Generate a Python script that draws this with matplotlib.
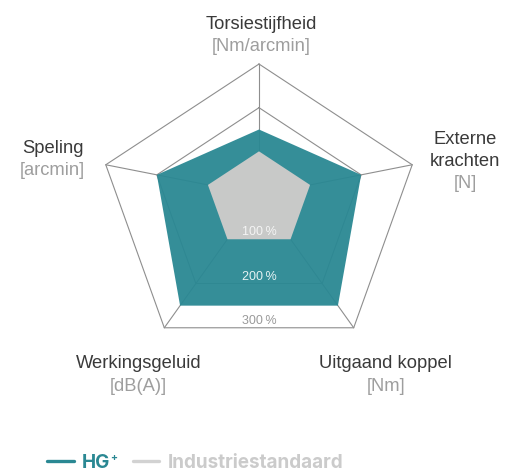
#!/usr/bin/env python3
"""
Radar chart: HG+ vs industry standard on five gearbox properties.
"""

import numpy as np
import matplotlib
matplotlib.use("Agg")
import matplotlib.pyplot as plt
from matplotlib.lines import Line2D
from matplotlib.font_manager import FontProperties

# Data
AXES = ["Torsiestijfheid", "Externe\nkrachten", "Uitgaand koppel", "Werkingsgeluid", "Speling"]
UNITS = ["[Nm/arcmin]", "[N]", "[Nm]", "[dB(A)]", "[arcmin]"]
HG_VALUES = [150, 200, 250, 250, 200]      # percent of industry standard
STD_VALUES = [100, 100, 100, 100, 100]
RINGS = [200, 300]
RING_LABELS = {100: "100\u2009%", 200: "200\u2009%", 300: "300\u2009%"}
SERIES = ["HG", "Industriestandaard"]      # "+" of HG+ drawn as a superscript

TEAL = "#2a8893"
GREY_FILL = "#c8c9c8"
GRID = "#8e8e8e"
FONT = ["Liberation Sans", "DejaVu Sans"]
LEGEND_FONT = ["Inter", "Liberation Sans", "DejaVu Sans"]

# slight vertical squash + downward drift of the rings (as in the original view)
KY = 0.905
TILT = 0.092

W, H, DPI = 506, 474, 100
PX_PER_PCT = 0.537          # pixels per percent on the radial axis
CENTER = (259, 195)         # spoke origin in pixels


def project(r, theta):
    r = np.asarray(r, dtype=float)
    return r * np.sin(theta), r * (KY * np.cos(theta) - TILT)


def px(v):
    """pixels -> points"""
    return v * 72 / DPI


n = len(AXES)
theta = np.arange(n) * 2 * np.pi / n

fig = plt.figure(figsize=(W / DPI, H / DPI), dpi=DPI)
ax = fig.add_axes([0, 0, 1, 1])
ax.set_xlim(-CENTER[0] / PX_PER_PCT, (W - CENTER[0]) / PX_PER_PCT)
ax.set_ylim(-(H - CENTER[1]) / PX_PER_PCT, CENTER[1] / PX_PER_PCT)
ax.axis("off")

# grid rings and spokes
for ring in RINGS:
    x, y = project([ring] * n, theta)
    ax.plot(np.append(x, x[0]), np.append(y, y[0]), color=GRID, lw=0.8, zorder=1)
for t in theta:
    x, y = project([0, max(RINGS)], t)
    ax.plot(x, y, color=GRID, lw=0.8, zorder=1)

# series
x, y = project(HG_VALUES, theta)
ax.fill(x, y, facecolor=TEAL, alpha=0.95, edgecolor="none", zorder=2)
x, y = project(STD_VALUES, theta)
ax.fill(x, y, facecolor=GREY_FILL, edgecolor="none", zorder=3)

# ring percentage labels, sitting on the bottom edge of each ring
ring_colors = {100: "#f4f4f4", 200: "#e6f2f3", 300: "#9a9a9a"}
for ring, txt in RING_LABELS.items():
    _, yb = project(ring, theta[2])
    ax.annotate(txt, xy=(0, yb), xytext=(0, px(4)), textcoords="offset points",
                ha="center", va="baseline", fontsize=9, family=FONT,
                color=ring_colors[ring], zorder=5)

# axis labels: offsets (px) from the outer vertex to first baseline
label_offsets = [(2, -35.5), (53, -21), (32, 40.5), (-25.5, 40.5), (-53.3, -12)]
LINE = 22.3
for i, (name, unit) in enumerate(zip(AXES, UNITS)):
    vx, vy = project(max(RINGS), theta[i])
    dx, dy = label_offsets[i]
    lines = name.split("\n") + [unit]
    for k, line in enumerate(lines):
        color = "#9e9e9e" if k == len(lines) - 1 else "#3a3a3a"
        ax.annotate(line, xy=(vx, vy), xytext=(px(dx), -px(dy + k * LINE)),
                    textcoords="offset points", ha="center", va="baseline",
                    fontsize=13.2, family=FONT, color=color)

# legend
handles = [
    Line2D([], [], color=TEAL, lw=2.4, solid_capstyle="round"),
    Line2D([], [], color="#d2d2d2", lw=2.4, solid_capstyle="round"),
]
leg = fig.legend(handles, SERIES, loc="center left",
                 bbox_to_anchor=(47.5 / W, 1 - 463 / H), ncol=2, frameon=False,
                 borderaxespad=0, borderpad=0, handlelength=1.38,
                 handletextpad=0.45, columnspacing=1.2,
                 prop=FontProperties(family=LEGEND_FONT, weight="bold", size=13.6))
for text, c in zip(leg.get_texts(), [TEAL, "#cbcbcb"]):
    text.set_color(c)

# superscript "+" right after "HG", top level with the capitals
fig.canvas.draw()
bb = leg.get_texts()[0].get_window_extent()
fig.text((bb.x1 - 0.5) / W, (bb.y0 + 11) / H, "+", ha="left", va="baseline",
         fontsize=7.5, fontweight="bold", family=LEGEND_FONT, color=TEAL)

fig.savefig("out.png", dpi=DPI)
